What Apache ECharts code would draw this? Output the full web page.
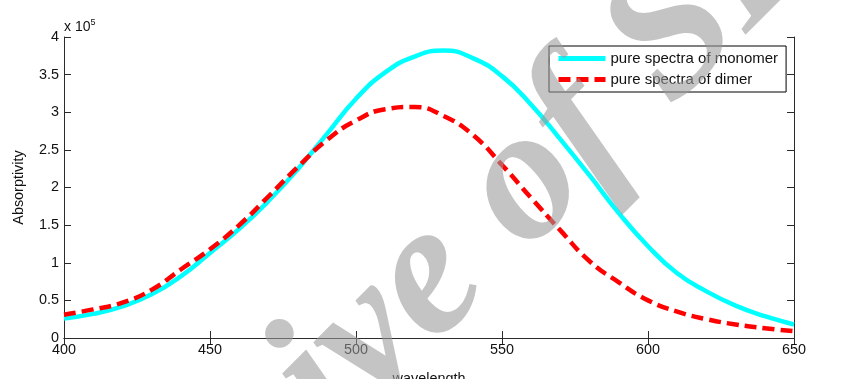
<!DOCTYPE html>
<html>
<head>
<meta charset="utf-8">
<script src="https://cdn.jsdelivr.net/npm/echarts@6/dist/echarts.min.js"></script>
<style>
  html, body { margin: 0; padding: 0; background: #fff; }
  #chart { width: 863px; height: 379px; }
</style>
</head>
<body>
<div id="chart"></div>
<script>
// wavelength (nm)
const wavelengths = [400, 410, 420, 430, 440, 450, 460, 470, 480, 490, 500, 510, 520,
  530, 540, 550, 560, 570, 580, 590, 600, 610, 620, 630, 640, 650]
// absorptivity, in units of 10^5
const monomer = [0.26, 0.32, 0.42, 0.58, 0.82, 1.13, 1.45, 1.82, 2.24, 2.71, 3.18, 3.53, 3.74,
  3.82, 3.72, 3.48, 3.10, 2.64, 2.16, 1.66, 1.22, 0.86, 0.62, 0.43, 0.29, 0.18]
const dimer = [0.31, 0.38, 0.47, 0.64, 0.91, 1.18, 1.50, 1.88, 2.27, 2.63, 2.89, 3.04, 3.07,
  2.95, 2.70, 2.30, 1.86, 1.43, 1.02, 0.74, 0.50, 0.35, 0.25, 0.18, 0.13, 0.09]
const seriesNames = ['pure spectra of monomer', 'pure spectra of dimer']

const chart = echarts.init(document.getElementById('chart'))
const axisColor = '#2b2b2b'
const font = 'Liberation Sans, Arial, sans-serif'

const hiddenAxis = {
  axisLine: { show: true, lineStyle: { color: axisColor } },
  axisTick: { show: true, inside: true, length: 7, lineStyle: { color: axisColor } },
  axisLabel: { show: false },
  splitLine: { show: false }
}

chart.setOption({
  animation: false,
  backgroundColor: '#fff',
  grid: { left: 64, top: 37, width: 730, height: 301, show: false, outerBoundsMode: 'none', containLabel: false },
  legend: {
    orient: 'vertical',
    left: 549,
    top: 46,
    padding: [5, 8, 5, 7],
    itemGap: 6,
    itemWidth: 47,
    itemHeight: 16,
    borderColor: '#000',
    borderWidth: 1,
    backgroundColor: '#fff',
    itemStyle: { opacity: 0 },
    lineStyle: { width: 5 },
    textStyle: { fontFamily: font, fontSize: 15, color: '#111' },
    data: seriesNames
  },
  xAxis: [{
    type: 'value', min: 400, max: 650, interval: 50,
    name: 'wavelength', nameLocation: 'middle', nameGap: 34,
    nameTextStyle: { fontFamily: font, fontSize: 14.4, color: '#111' },
    axisLine: { show: true, onZero: false, lineStyle: { color: axisColor } },
    axisTick: { show: true, inside: true, length: 7, lineStyle: { color: axisColor } },
    axisLabel: { fontFamily: font, fontSize: 14.4, color: '#111', margin: 5 },
    splitLine: { show: false }
  }, Object.assign({ type: 'value', min: 400, max: 650, interval: 50, position: 'top' }, hiddenAxis)],
  yAxis: [{
    type: 'value', min: 0, max: 4, interval: 0.5,
    name: 'Absorptivity', nameLocation: 'middle', nameGap: 38,
    nameTextStyle: { fontFamily: font, fontSize: 14.4, color: '#111' },
    axisLine: { show: true, lineStyle: { color: axisColor } },
    axisTick: { show: true, inside: true, length: 7, lineStyle: { color: axisColor } },
    axisLabel: { fontFamily: font, fontSize: 14.4, color: '#111', margin: 5 },
    splitLine: { show: false }
  }, Object.assign({ type: 'value', min: 0, max: 4, interval: 0.5, position: 'right' }, hiddenAxis)],
  graphic: [
    {
      type: 'text', left: 64, top: 18,
      style: {
        text: 'x 10{s|5}',
        fontFamily: font, fontSize: 14, fill: '#111',
        rich: { s: { fontSize: 9, verticalAlign: 'top', padding: [0, 0, 9, 0] } }
      }
    },
    {
      type: 'text', x: 443, y: 267, rotation: 0.784, z: 100,
      style: {
        text: 'Archive of SID',
        fontFamily: 'Liberation Serif, serif', fontWeight: 'bold', fontStyle: 'italic',
        fontSize: 190, fill: '#999', opacity: 0.58,
        align: 'center', verticalAlign: 'middle'
      }
    }
  ],
  series: [
    {
      name: seriesNames[0], type: 'line', smooth: true, symbol: 'none',
      data: wavelengths.map((w, i) => [w, monomer[i]]),
      lineStyle: { color: '#00ffff', width: 4.5 },
      itemStyle: { color: '#00ffff' }
    },
    {
      name: seriesNames[1], type: 'line', smooth: true, symbol: 'none',
      data: wavelengths.map((w, i) => [w, dimer[i]]),
      lineStyle: { color: '#ff0000', width: 4.5, type: [12, 6] },
      itemStyle: { color: '#ff0000' }
    }
  ]
})
</script>
</body>
</html>
